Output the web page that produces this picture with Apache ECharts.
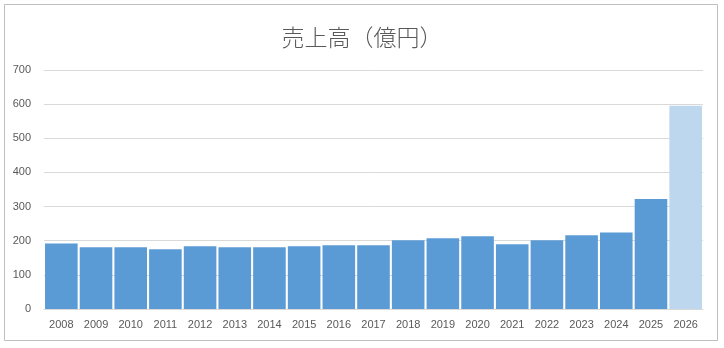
<!DOCTYPE html>
<html><head><meta charset="utf-8">
<script src="https://cdn.jsdelivr.net/npm/echarts@6/dist/echarts.min.js"></script>
<style>html,body{margin:0;padding:0;background:#fff}#c{width:724px;height:348px}</style>
</head><body><div id="c"></div>
<script>
const years = ['2008','2009','2010','2011','2012','2013','2014','2015','2016','2017','2018','2019','2020','2021','2022','2023','2024','2025','2026'];
const sales = [192,181,181,175,184,181,181,184,187,187,201,207,213,190,201,216,224,322,595];
const forecastIndex = 18;
const yTicks = [0,100,200,300,400,500,600,700];
const titleText = '売上高（億円）';

const chart = echarts.init(document.getElementById('c'));
chart.setOption({
  animation:false,
  backgroundColor:'#fff',
  title:{text:titleText,left:'center',top:21,textStyle:{fontFamily:'Noto Sans CJK JP',fontSize:23,fontWeight:300,color:'#595959'}},
  graphic:[{type:'rect',shape:{x:4.5,y:4.5,width:713,height:336},style:{fill:'none',stroke:'#bfbfbf',lineWidth:1}}],
  grid:{left:44,right:21,top:70,bottom:39},
  xAxis:{type:'category',data:years,
    axisLine:{lineStyle:{color:'#d9d9d9'}},axisTick:{show:false},
    axisLabel:{color:'#595959',fontSize:11,fontFamily:'Liberation Sans',margin:10}},
  yAxis:{type:'value',min:yTicks[0],max:yTicks[yTicks.length-1],interval:100,
    axisLine:{show:false},axisTick:{show:false},
    splitLine:{lineStyle:{color:'#d9d9d9'}},
    axisLabel:{color:'#595959',fontSize:11,fontFamily:'Liberation Sans',margin:13}},
  series:[{type:'bar',barCategoryGap:'6%',
    data:sales.map((v,i)=>({value:v,itemStyle:{color:i===forecastIndex?'#BDD7EE':'#5B9BD5'}}))}]
});
</script></body></html>
